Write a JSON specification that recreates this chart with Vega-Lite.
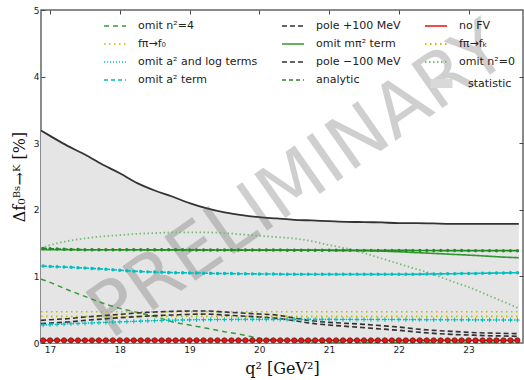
{
  "$schema": "https://vega.github.io/schema/vega-lite/v6.json",
  "width": 482,
  "height": 333,
  "autosize": "none",
  "padding": {"left": 41, "top": 10, "right": 1, "bottom": 37},
  "background": "white",
  "config": {
    "view": {"stroke": "#666", "strokeWidth": 1.5},
    "font": "DejaVu Sans",
    "axis": {"grid": false, "domain": false, "labelFont": "DejaVu Sans", "labelFontSize": 9, "labelColor": "#222", "tickColor": "#444", "tickSize": -4, "titleFont": "DejaVu Serif", "titleFontSize": 16, "titleFontWeight": "normal", "titleColor": "#111"},
    "legend": {"orient": "none", "legendX": 62, "legendY": 4, "columns": 3, "columnPadding": 20, "rowPadding": 1, "symbolType": "stroke", "symbolSize": 484, "labelFont": "DejaVu Sans", "labelFontSize": 11, "labelColor": "#222", "labelOffset": 11, "labelLimit": 250, "padding": 0}
  },
  "resolve": {"axis": {"x": "independent", "y": "independent"}},
  "datasets": {
    "wm": [{"q": 20.56, "v": 2.42, "t": "PRELIMINARY"}],
    "sparse": [
      {"q": 16.87, "stat": 3.19, "n4": 0.96, "fpif0": 0.47, "fpifK": 0.40, "poleP": 0.34, "poleM": 0.29, "mpi": 1.40, "n0": 1.42},
      {"q": 17.0, "stat": 3.11, "n4": 0.91, "fpif0": 0.47, "fpifK": 0.40, "poleP": 0.35, "poleM": 0.30, "mpi": 1.40, "n0": 1.47},
      {"q": 17.25, "stat": 2.96, "n4": 0.80, "fpif0": 0.47, "fpifK": 0.40, "poleP": 0.365, "poleM": 0.315, "mpi": 1.40, "n0": 1.53},
      {"q": 17.5, "stat": 2.83, "n4": 0.70, "fpif0": 0.47, "fpifK": 0.40, "poleP": 0.39, "poleM": 0.34, "mpi": 1.40, "n0": 1.57},
      {"q": 17.75, "stat": 2.68, "n4": 0.60, "fpif0": 0.47, "fpifK": 0.40, "poleP": 0.41, "poleM": 0.36, "mpi": 1.40, "n0": 1.60},
      {"q": 18.0, "stat": 2.55, "n4": 0.52, "fpif0": 0.47, "fpifK": 0.40, "poleP": 0.43, "poleM": 0.38, "mpi": 1.40, "n0": 1.62},
      {"q": 18.25, "stat": 2.40, "n4": 0.46, "fpif0": 0.47, "fpifK": 0.40, "poleP": 0.45, "poleM": 0.395, "mpi": 1.40, "n0": 1.64},
      {"q": 18.5, "stat": 2.29, "n4": 0.40, "fpif0": 0.47, "fpifK": 0.40, "poleP": 0.465, "poleM": 0.41, "mpi": 1.398, "n0": 1.65},
      {"q": 18.75, "stat": 2.20, "n4": 0.32, "fpif0": 0.47, "fpifK": 0.40, "poleP": 0.475, "poleM": 0.42, "mpi": 1.398, "n0": 1.66},
      {"q": 19.0, "stat": 2.10, "n4": 0.27, "fpif0": 0.47, "fpifK": 0.40, "poleP": 0.48, "poleM": 0.43, "mpi": 1.397, "n0": 1.66},
      {"q": 19.25, "stat": 2.02, "n4": 0.22, "fpif0": 0.47, "fpifK": 0.40, "poleP": 0.48, "poleM": 0.435, "mpi": 1.397, "n0": 1.66},
      {"q": 19.5, "stat": 1.96, "n4": 0.17, "fpif0": 0.47, "fpifK": 0.40, "poleP": 0.465, "poleM": 0.42, "mpi": 1.396, "n0": 1.65},
      {"q": 19.75, "stat": 1.92, "n4": 0.125, "fpif0": 0.47, "fpifK": 0.40, "poleP": 0.45, "poleM": 0.405, "mpi": 1.396, "n0": 1.63},
      {"q": 20.0, "stat": 1.89, "n4": 0.07, "fpif0": 0.47, "fpifK": 0.40, "poleP": 0.435, "poleM": 0.39, "mpi": 1.395, "n0": 1.61},
      {"q": 20.25, "stat": 1.87, "n4": 0.04, "fpif0": 0.47, "fpifK": 0.40, "poleP": 0.42, "poleM": 0.37, "mpi": 1.395, "n0": 1.59},
      {"q": 20.5, "stat": 1.85, "n4": 0.02, "fpif0": 0.47, "fpifK": 0.40, "poleP": 0.375, "poleM": 0.335, "mpi": 1.394, "n0": 1.57},
      {"q": 20.75, "stat": 1.84, "n4": 0.012, "fpif0": 0.47, "fpifK": 0.40, "poleP": 0.335, "poleM": 0.295, "mpi": 1.393, "n0": 1.53},
      {"q": 21.0, "stat": 1.83, "n4": 0.008, "fpif0": 0.47, "fpifK": 0.40, "poleP": 0.31, "poleM": 0.27, "mpi": 1.392, "n0": 1.47},
      {"q": 21.25, "stat": 1.82, "n4": 0.006, "fpif0": 0.47, "fpifK": 0.40, "poleP": 0.295, "poleM": 0.25, "mpi": 1.39, "n0": 1.42},
      {"q": 21.5, "stat": 1.815, "n4": 0.006, "fpif0": 0.47, "fpifK": 0.40, "poleP": 0.28, "poleM": 0.23, "mpi": 1.387, "n0": 1.35},
      {"q": 21.75, "stat": 1.81, "n4": 0.006, "fpif0": 0.47, "fpifK": 0.40, "poleP": 0.26, "poleM": 0.21, "mpi": 1.38, "n0": 1.27},
      {"q": 22.0, "stat": 1.80, "n4": 0.006, "fpif0": 0.47, "fpifK": 0.40, "poleP": 0.24, "poleM": 0.19, "mpi": 1.37, "n0": 1.19},
      {"q": 22.25, "stat": 1.80, "n4": 0.006, "fpif0": 0.47, "fpifK": 0.40, "poleP": 0.21, "poleM": 0.165, "mpi": 1.357, "n0": 1.11},
      {"q": 22.5, "stat": 1.795, "n4": 0.006, "fpif0": 0.47, "fpifK": 0.40, "poleP": 0.19, "poleM": 0.145, "mpi": 1.345, "n0": 1.03},
      {"q": 22.75, "stat": 1.79, "n4": 0.006, "fpif0": 0.47, "fpifK": 0.40, "poleP": 0.175, "poleM": 0.13, "mpi": 1.332, "n0": 0.93},
      {"q": 23.0, "stat": 1.79, "n4": 0.006, "fpif0": 0.47, "fpifK": 0.40, "poleP": 0.16, "poleM": 0.12, "mpi": 1.32, "n0": 0.84},
      {"q": 23.25, "stat": 1.79, "n4": 0.006, "fpif0": 0.47, "fpifK": 0.40, "poleP": 0.15, "poleM": 0.11, "mpi": 1.305, "n0": 0.73},
      {"q": 23.5, "stat": 1.79, "n4": 0.006, "fpif0": 0.47, "fpifK": 0.40, "poleP": 0.145, "poleM": 0.105, "mpi": 1.29, "n0": 0.62},
      {"q": 23.72, "stat": 1.79, "n4": 0.006, "fpif0": 0.47, "fpifK": 0.40, "poleP": 0.14, "poleM": 0.10, "mpi": 1.28, "n0": 0.52}
    ],
    "dense": [
      {"q": 16.9, "nofv": 0.04, "analytic": 1.420, "a2": 1.155, "a2log": 0.270},
      {"q": 17.0, "nofv": 0.04, "analytic": 1.415, "a2": 1.150, "a2log": 0.274},
      {"q": 17.1, "nofv": 0.04, "analytic": 1.410, "a2": 1.145, "a2log": 0.279},
      {"q": 17.2, "nofv": 0.04, "analytic": 1.408, "a2": 1.140, "a2log": 0.284},
      {"q": 17.3, "nofv": 0.04, "analytic": 1.405, "a2": 1.136, "a2log": 0.289},
      {"q": 17.4, "nofv": 0.04, "analytic": 1.403, "a2": 1.131, "a2log": 0.293},
      {"q": 17.5, "nofv": 0.04, "analytic": 1.400, "a2": 1.126, "a2log": 0.297},
      {"q": 17.6, "nofv": 0.04, "analytic": 1.400, "a2": 1.120, "a2log": 0.301},
      {"q": 17.7, "nofv": 0.04, "analytic": 1.400, "a2": 1.114, "a2log": 0.305},
      {"q": 17.8, "nofv": 0.04, "analytic": 1.400, "a2": 1.107, "a2log": 0.309},
      {"q": 17.9, "nofv": 0.04, "analytic": 1.400, "a2": 1.100, "a2log": 0.313},
      {"q": 18.0, "nofv": 0.04, "analytic": 1.400, "a2": 1.093, "a2log": 0.317},
      {"q": 18.1, "nofv": 0.04, "analytic": 1.400, "a2": 1.086, "a2log": 0.321},
      {"q": 18.2, "nofv": 0.04, "analytic": 1.400, "a2": 1.079, "a2log": 0.325},
      {"q": 18.3, "nofv": 0.04, "analytic": 1.400, "a2": 1.073, "a2log": 0.329},
      {"q": 18.4, "nofv": 0.04, "analytic": 1.400, "a2": 1.068, "a2log": 0.333},
      {"q": 18.5, "nofv": 0.04, "analytic": 1.400, "a2": 1.065, "a2log": 0.336},
      {"q": 18.6, "nofv": 0.04, "analytic": 1.400, "a2": 1.062, "a2log": 0.339},
      {"q": 18.7, "nofv": 0.04, "analytic": 1.400, "a2": 1.059, "a2log": 0.342},
      {"q": 18.8, "nofv": 0.04, "analytic": 1.400, "a2": 1.056, "a2log": 0.344},
      {"q": 18.9, "nofv": 0.04, "analytic": 1.400, "a2": 1.054, "a2log": 0.346},
      {"q": 19.0, "nofv": 0.04, "analytic": 1.398, "a2": 1.052, "a2log": 0.348},
      {"q": 19.1, "nofv": 0.04, "analytic": 1.398, "a2": 1.050, "a2log": 0.349},
      {"q": 19.2, "nofv": 0.04, "analytic": 1.397, "a2": 1.048, "a2log": 0.350},
      {"q": 19.3, "nofv": 0.04, "analytic": 1.397, "a2": 1.046, "a2log": 0.351},
      {"q": 19.4, "nofv": 0.04, "analytic": 1.396, "a2": 1.044, "a2log": 0.352},
      {"q": 19.5, "nofv": 0.04, "analytic": 1.396, "a2": 1.043, "a2log": 0.353},
      {"q": 19.6, "nofv": 0.04, "analytic": 1.395, "a2": 1.042, "a2log": 0.354},
      {"q": 19.7, "nofv": 0.04, "analytic": 1.395, "a2": 1.040, "a2log": 0.355},
      {"q": 19.8, "nofv": 0.04, "analytic": 1.395, "a2": 1.039, "a2log": 0.355},
      {"q": 19.9, "nofv": 0.04, "analytic": 1.395, "a2": 1.038, "a2log": 0.355},
      {"q": 20.0, "nofv": 0.04, "analytic": 1.395, "a2": 1.037, "a2log": 0.355},
      {"q": 20.1, "nofv": 0.04, "analytic": 1.395, "a2": 1.036, "a2log": 0.355},
      {"q": 20.2, "nofv": 0.04, "analytic": 1.395, "a2": 1.035, "a2log": 0.355},
      {"q": 20.3, "nofv": 0.04, "analytic": 1.395, "a2": 1.034, "a2log": 0.355},
      {"q": 20.4, "nofv": 0.04, "analytic": 1.394, "a2": 1.033, "a2log": 0.355},
      {"q": 20.5, "nofv": 0.04, "analytic": 1.394, "a2": 1.033, "a2log": 0.355},
      {"q": 20.6, "nofv": 0.04, "analytic": 1.394, "a2": 1.032, "a2log": 0.355},
      {"q": 20.7, "nofv": 0.04, "analytic": 1.394, "a2": 1.032, "a2log": 0.355},
      {"q": 20.8, "nofv": 0.04, "analytic": 1.393, "a2": 1.032, "a2log": 0.355},
      {"q": 20.9, "nofv": 0.04, "analytic": 1.393, "a2": 1.031, "a2log": 0.355},
      {"q": 21.0, "nofv": 0.04, "analytic": 1.393, "a2": 1.031, "a2log": 0.355},
      {"q": 21.1, "nofv": 0.04, "analytic": 1.392, "a2": 1.031, "a2log": 0.354},
      {"q": 21.2, "nofv": 0.04, "analytic": 1.392, "a2": 1.031, "a2log": 0.354},
      {"q": 21.3, "nofv": 0.04, "analytic": 1.392, "a2": 1.031, "a2log": 0.354},
      {"q": 21.4, "nofv": 0.04, "analytic": 1.391, "a2": 1.031, "a2log": 0.353},
      {"q": 21.5, "nofv": 0.04, "analytic": 1.391, "a2": 1.031, "a2log": 0.353},
      {"q": 21.6, "nofv": 0.04, "analytic": 1.391, "a2": 1.031, "a2log": 0.353},
      {"q": 21.7, "nofv": 0.04, "analytic": 1.390, "a2": 1.031, "a2log": 0.353},
      {"q": 21.8, "nofv": 0.04, "analytic": 1.390, "a2": 1.031, "a2log": 0.352},
      {"q": 21.9, "nofv": 0.04, "analytic": 1.390, "a2": 1.032, "a2log": 0.352},
      {"q": 22.0, "nofv": 0.04, "analytic": 1.390, "a2": 1.032, "a2log": 0.352},
      {"q": 22.1, "nofv": 0.04, "analytic": 1.390, "a2": 1.032, "a2log": 0.351},
      {"q": 22.2, "nofv": 0.04, "analytic": 1.389, "a2": 1.033, "a2log": 0.351},
      {"q": 22.3, "nofv": 0.04, "analytic": 1.389, "a2": 1.034, "a2log": 0.351},
      {"q": 22.4, "nofv": 0.04, "analytic": 1.389, "a2": 1.035, "a2log": 0.350},
      {"q": 22.5, "nofv": 0.04, "analytic": 1.389, "a2": 1.036, "a2log": 0.350},
      {"q": 22.6, "nofv": 0.04, "analytic": 1.388, "a2": 1.038, "a2log": 0.350},
      {"q": 22.7, "nofv": 0.04, "analytic": 1.388, "a2": 1.040, "a2log": 0.349},
      {"q": 22.8, "nofv": 0.04, "analytic": 1.388, "a2": 1.041, "a2log": 0.349},
      {"q": 22.9, "nofv": 0.04, "analytic": 1.388, "a2": 1.043, "a2log": 0.348},
      {"q": 23.0, "nofv": 0.04, "analytic": 1.387, "a2": 1.044, "a2log": 0.348},
      {"q": 23.1, "nofv": 0.04, "analytic": 1.387, "a2": 1.045, "a2log": 0.347},
      {"q": 23.2, "nofv": 0.04, "analytic": 1.387, "a2": 1.047, "a2log": 0.347},
      {"q": 23.3, "nofv": 0.04, "analytic": 1.387, "a2": 1.049, "a2log": 0.347},
      {"q": 23.4, "nofv": 0.04, "analytic": 1.386, "a2": 1.050, "a2log": 0.346},
      {"q": 23.5, "nofv": 0.04, "analytic": 1.386, "a2": 1.052, "a2log": 0.346},
      {"q": 23.6, "nofv": 0.04, "analytic": 1.386, "a2": 1.054, "a2log": 0.345},
      {"q": 23.7, "nofv": 0.04, "analytic": 1.386, "a2": 1.056, "a2log": 0.345}
    ]
  },
  "layer": [
    {
      "data": {"name": "sparse"},
      "mark": {"type": "area", "interpolate": "monotone"},
      "encoding": {
        "x": {"field": "q", "type": "quantitative", "scale": {"domain": [16.87, 23.78], "nice": false, "zero": false},
              "axis": {"orient": "bottom", "values": [17, 18, 19, 20, 21, 22, 23], "title": "q² [GeV²]", "labelPadding": 6, "titlePadding": 6}},
        "y": {"field": "stat", "type": "quantitative", "scale": {"domain": [0, 5], "nice": false, "zero": false},
              "axis": {"orient": "left", "values": [0, 1, 2, 3, 4, 5], "title": "Δf₀ᴮˢ→ᴷ [%]", "labelPadding": 6, "titlePadding": 6}},
        "y2": {"datum": 0},
        "fill": {"datum": "statistic", "type": "nominal", "title": null,
                 "scale": {"domain": ["statistic"], "range": ["#e5e5e5"]},
                 "legend": {"legendX": 385, "legendY": 58, "columns": 1, "symbolType": "stroke", "symbolStrokeColor": "#d9d9d9", "symbolStrokeWidth": 9, "symbolOpacity": 1, "symbolSize": 484, "labelOffset": 11}}
      }
    },
    {
      "data": {"name": "sparse"},
      "mark": {"type": "line", "color": "#333333", "strokeWidth": 1.8, "interpolate": "monotone"},
      "encoding": {
        "x": {"field": "q", "type": "quantitative", "scale": {"domain": [16.87, 23.78], "nice": false, "zero": false},
              "axis": {"orient": "top", "values": [17, 18, 19, 20, 21, 22, 23], "labels": false, "title": null}},
        "y": {"field": "stat", "type": "quantitative", "scale": {"domain": [0, 5], "nice": false, "zero": false},
              "axis": {"orient": "right", "values": [1, 2, 3, 4], "labels": false, "title": null}}
      }
    },
    {
      "data": {"name": "wm"},
      "mark": {"type": "text", "fontSize": 74, "font": "DejaVu Sans", "angle": -35, "color": "#555555", "opacity": 0.28, "align": "center", "baseline": "middle"},
      "encoding": {
        "x": {"field": "q", "type": "quantitative", "axis": null},
        "y": {"field": "v", "type": "quantitative", "axis": null},
        "text": {"field": "t"}
      }
    },
    {
      "data": {"name": "sparse"},
      "transform": [{"fold": ["n4", "fpif0", "fpifK", "poleP", "poleM", "mpi", "n0"], "as": ["k", "v"]}],
      "mark": {"type": "line", "interpolate": "monotone"},
      "encoding": {
        "x": {"field": "q", "type": "quantitative", "axis": null},
        "y": {"field": "v", "type": "quantitative", "axis": null},
        "detail": {"field": "k"},
        "color": {"field": "k", "type": "nominal", "title": null,
          "scale": {"domain": ["n4", "fpif0", "a2log", "a2", "poleP", "mpi", "poleM", "analytic", "nofv", "fpifK", "n0"],
                    "range": ["#3a9a3a", "#bfbf00", "#00bfbf", "#00bfbf", "#333333", "#339933", "#333333", "#228b22", "#ee1111", "#bfbf00", "#77bb77"]},
          "legend": {"labelExpr": "{'n4':'omit n²=4','poleP':'pole +100 MeV','nofv':'no FV','fpif0':'fπ→f₀','mpi':'omit mπ² term','fpifK':'fπ→fₖ','a2log':'omit a² and log terms','poleM':'pole −100 MeV','n0':'omit n²=0','a2':'omit a² term','analytic':'analytic'}[datum.label]"}},
        "strokeDash": {"field": "k", "type": "nominal", "title": null,
          "scale": {"domain": ["n4", "fpif0", "a2log", "a2", "poleP", "mpi", "poleM", "analytic", "nofv", "fpifK", "n0"],
                    "range": [[5, 4], [1.5, 3.5], [1, 2], [4, 3], [5, 3], [1, 0], [5, 3], [4, 3], [1, 0], [1.5, 3.5], [1.5, 2.5]]}},
        "strokeWidth": {"field": "k", "type": "nominal", "title": null,
          "scale": {"domain": ["n4", "fpif0", "a2log", "a2", "poleP", "mpi", "poleM", "analytic", "nofv", "fpifK", "n0"],
                    "range": [1.5, 1.8, 1.2, 2, 2.2, 1.8, 2.2, 2, 1.5, 1.8, 1.3]}}
      }
    },
    {
      "data": {"name": "dense"},
      "transform": [{"fold": ["analytic", "a2", "a2log", "nofv"], "as": ["k", "v"]}],
      "mark": {"type": "line"},
      "encoding": {
        "x": {"field": "q", "type": "quantitative", "axis": null},
        "y": {"field": "v", "type": "quantitative", "axis": null},
        "detail": {"field": "k"},
        "color": {"field": "k", "type": "nominal", "title": null,
          "scale": {"domain": ["n4", "fpif0", "a2log", "a2", "poleP", "mpi", "poleM", "analytic", "nofv", "fpifK", "n0"],
                    "range": ["#3a9a3a", "#bfbf00", "#00bfbf", "#00bfbf", "#333333", "#339933", "#333333", "#228b22", "#ee1111", "#bfbf00", "#77bb77"]},
          "legend": {"labelExpr": "{'n4':'omit n²=4','poleP':'pole +100 MeV','nofv':'no FV','fpif0':'fπ→f₀','mpi':'omit mπ² term','fpifK':'fπ→fₖ','a2log':'omit a² and log terms','poleM':'pole −100 MeV','n0':'omit n²=0','a2':'omit a² term','analytic':'analytic'}[datum.label]"}},
        "strokeDash": {"field": "k", "type": "nominal", "title": null,
          "scale": {"domain": ["n4", "fpif0", "a2log", "a2", "poleP", "mpi", "poleM", "analytic", "nofv", "fpifK", "n0"],
                    "range": [[5, 4], [1.5, 3.5], [1, 2], [4, 3], [5, 3], [1, 0], [5, 3], [4, 3], [1, 0], [1.5, 3.5], [1.5, 2.5]]}},
        "strokeWidth": {"field": "k", "type": "nominal", "title": null,
          "scale": {"domain": ["n4", "fpif0", "a2log", "a2", "poleP", "mpi", "poleM", "analytic", "nofv", "fpifK", "n0"],
                    "range": [1.5, 1.8, 1.2, 2, 2.2, 1.8, 2.2, 2, 1.5, 1.8, 1.3]}}
      }
    },
    {
      "data": {"name": "dense"},
      "mark": {"type": "point", "shape": "circle", "filled": true, "fill": "#228b22", "size": 12, "opacity": 1, "strokeWidth": 0},
      "encoding": {
        "x": {"field": "q", "type": "quantitative", "axis": null},
        "y": {"field": "analytic", "type": "quantitative", "axis": null}
      }
    },
    {
      "data": {"name": "dense"},
      "mark": {"type": "point", "shape": "circle", "filled": true, "fill": "#00bfbf", "size": 12, "opacity": 1, "strokeWidth": 0},
      "encoding": {
        "x": {"field": "q", "type": "quantitative", "axis": null},
        "y": {"field": "a2", "type": "quantitative", "axis": null}
      }
    },
    {
      "data": {"name": "dense"},
      "mark": {"type": "point", "shape": "M -1 0 L 1 0 M 0 -1 L 0 1", "filled": false, "stroke": "#00bfbf", "size": 20, "opacity": 1, "strokeWidth": 1},
      "encoding": {
        "x": {"field": "q", "type": "quantitative", "axis": null},
        "y": {"field": "a2log", "type": "quantitative", "axis": null}
      }
    },
    {
      "data": {"name": "dense"},
      "mark": {"type": "point", "shape": "circle", "filled": true, "fill": "#ee1111", "stroke": "#222222", "strokeWidth": 0.6, "size": 28, "opacity": 1},
      "encoding": {
        "x": {"field": "q", "type": "quantitative", "axis": null},
        "y": {"field": "nofv", "type": "quantitative", "axis": null}
      }
    }
  ]
}
